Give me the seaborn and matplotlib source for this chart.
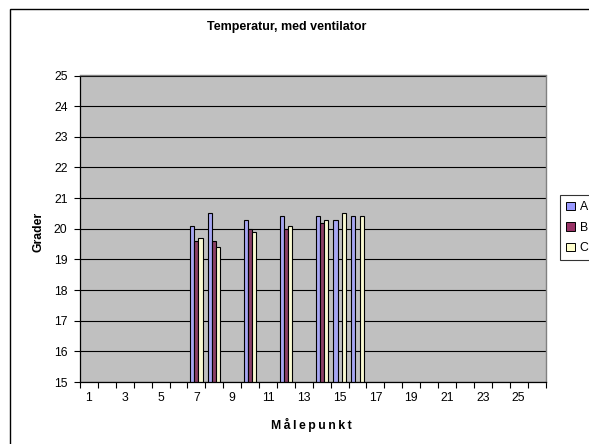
import numpy as np
import pandas as pd
import matplotlib
matplotlib.use("Agg")
import matplotlib.pyplot as plt
from matplotlib.patches import Rectangle, Patch
import seaborn as sns

# data
maalepunkt = list(range(1, 27))
punkter = [7, 8, 10, 12, 14, 15, 16]
temp_a = [20.1, 20.5, 20.3, 20.4, 20.4, 20.3, 20.4]
temp_b = [19.6, 19.6, 20.0, 20.0, 20.2, np.nan, np.nan]
temp_c = [19.7, 19.4, 19.9, 20.1, 20.3, 20.5, 20.4]
serier = ["A", "B", "C"]
farver = ["#9999FF", "#993366", "#FFFFCC"]

df = pd.DataFrame({
    "punkt": punkter * 3,
    "serie": ["A"] * len(punkter) + ["B"] * len(punkter) + ["C"] * len(punkter),
    "grader": temp_a + temp_b + temp_c,
}).dropna()

sns.set_theme(style="white", rc={
    "text.color": "black",
    "axes.labelcolor": "black",
    "xtick.color": "black",
    "ytick.color": "black",
})
plt.rcParams["font.family"] = ["Liberation Sans", "DejaVu Sans"]

W, H = 589, 444
fig = plt.figure(figsize=(W / 100, H / 100), dpi=100)
fig.patch.set_facecolor("white")

# plot area in pixel coords (left, top, right, bottom)
l, t, r, b = 80, 75.5, 545.5, 382
ax = fig.add_axes([l / W, 1 - b / H, (r - l) / W, (b - t) / H])
ax.set_facecolor("#C0C0C0")

sns.barplot(data=df, x="punkt", y="grader", hue="serie", order=maalepunkt,
            hue_order=serier, palette=farver, width=0.69, dodge=True,
            edgecolor="black", linewidth=0.8, legend=False, ax=ax)

ax.set_ylim(15, 25)
ax.set_xlim(-0.5, 25.5)
ax.set_yticks(range(15, 26))
ax.yaxis.grid(True, color="black", linewidth=0.8)
ax.set_axisbelow(True)

ax.set_xticks(range(0, 26, 2))
ax.set_xticklabels([str(m) for m in maalepunkt[::2]])
ax.set_xticks(np.arange(-0.5, 26, 1), minor=True)
ax.tick_params(axis="x", which="major", length=0, pad=7, labelsize=8.8)
ax.tick_params(axis="x", which="minor", length=4, width=0.8, color="black",
               direction="out", bottom=True)
ax.tick_params(axis="y", length=4, width=0.8, color="black", direction="out",
               left=True, pad=5, labelsize=8.8)

for side in ["top", "right"]:
    ax.spines[side].set_color("#808080")
    ax.spines[side].set_linewidth(1)
for side in ["left", "bottom"]:
    ax.spines[side].set_color("black")
    ax.spines[side].set_linewidth(0.9)

ax.set_xlabel("")
ax.set_ylabel("")

fig.text(287 / W, 1 - 27 / H, "Temperatur, med ventilator", ha="center",
         va="center", fontsize=9, fontweight="bold")
fig.text(311 / W, 1 - 425 / H, "\u2009".join("Målepunkt"), ha="center",
         va="center", fontsize=8.8, fontweight="bold")
fig.text(38 / W, 1 - 232 / H, "Grader", ha="center", va="center",
         rotation=90, fontsize=8.8, fontweight="bold")

# outer chart border (cut by the image at right and bottom)
fig.patches.append(Rectangle((9.5 / W, -0.1), 1.0, 1 - 9.5 / H + 0.1,
                             transform=fig.transFigure, fill=False,
                             edgecolor="black", linewidth=1))

handles = [Patch(facecolor=c, edgecolor="black", linewidth=0.7) for c in farver]
leg = fig.legend(handles, serier, loc="upper left",
                 bbox_to_anchor=(560 / W, 1 - 195 / H), fontsize=8.8,
                 frameon=True, fancybox=False, handlelength=0.7,
                 handleheight=0.7, handletextpad=0.4, borderpad=0.5,
                 labelspacing=0.7, borderaxespad=0)
leg.get_frame().set_edgecolor("black")
leg.get_frame().set_linewidth(0.8)

fig.savefig("out.png", dpi=100)
